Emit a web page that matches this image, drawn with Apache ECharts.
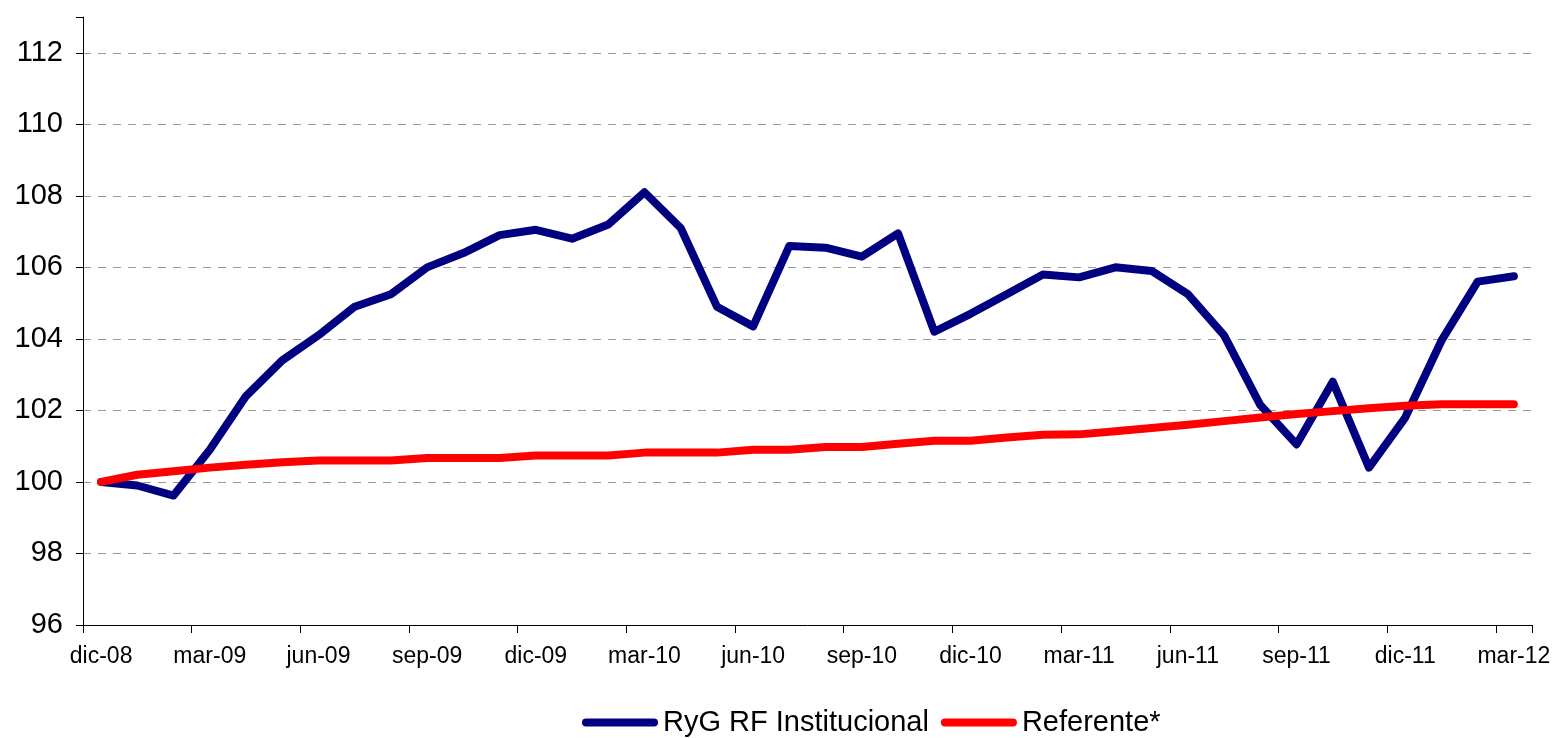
<!DOCTYPE html>
<html>
<head>
<meta charset="utf-8">
<script src="https://cdn.jsdelivr.net/npm/echarts@6/dist/echarts.min.js"></script>
<style>
  html, body { margin: 0; padding: 0; background: #fff; }
  #main { width: 1555px; height: 738px; }
</style>
</head>
<body>
<div id="main"></div>
<script type="text/javascript">
    // meses (dic-08 .. mar-12)
    var months = ['dic-08','ene-09','feb-09','mar-09','abr-09','may-09','jun-09','jul-09','ago-09','sep-09','oct-09','nov-09',
                  'dic-09','ene-10','feb-10','mar-10','abr-10','may-10','jun-10','jul-10','ago-10','sep-10','oct-10','nov-10',
                  'dic-10','ene-11','feb-11','mar-11','abr-11','may-11','jun-11','jul-11','ago-11','sep-11','oct-11','nov-11',
                  'dic-11','ene-12','feb-12','mar-12'];

    var ryg = [100.0, 99.9, 99.62, 100.9, 102.4, 103.4, 104.1, 104.9, 105.25, 106.0, 106.4, 106.9,
               107.05, 106.8, 107.2, 108.1, 107.1, 104.9, 104.35, 106.6, 106.55, 106.3, 106.95, 104.2,
               104.7, 105.25, 105.8, 105.72, 106.0, 105.9, 105.25, 104.1, 102.15, 101.05, 102.8, 100.4,
               101.8, 103.95, 105.6, 105.75];

    var referente = [100.0, 100.2, 100.3, 100.4, 100.48, 100.55, 100.6, 100.6, 100.6, 100.67, 100.67, 100.67,
                     100.74, 100.74, 100.74, 100.82, 100.82, 100.82, 100.9, 100.9, 100.98, 100.98, 101.07, 101.15,
                     101.15, 101.24, 101.32, 101.33, 101.42, 101.51, 101.6, 101.7, 101.8, 101.9, 101.98, 102.06,
                     102.13, 102.17, 102.17, 102.17];

    var yTicks = [96, 98, 100, 102, 104, 106, 108, 110, 112];

    var pill = 'path://M4,0 L72,0 A4,4 0 0 1 72,8 L4,8 A4,4 0 0 1 4,0 Z';

    var myChart = echarts.init(document.getElementById('main'));
    var option = {
        animation: false,
        backgroundColor: '#fff',
        grid: { left: 83, right: 23, top: 17, bottom: 113 },
        legend: {
            left: 577,
            top: 703,
            itemWidth: 76,
            itemHeight: 8,
            itemGap: 12,
            textStyle: { fontFamily: 'Liberation Sans, Arial, sans-serif', fontSize: 29, color: '#000' },
            data: [
                { name: 'RyG RF Institucional', icon: pill },
                { name: 'Referente*', icon: pill }
            ]
        },
        xAxis: {
            type: 'category',
            data: months,
            boundaryGap: true,
            axisLine: { show: true, lineStyle: { color: '#000', width: 1 } },
            axisTick: { show: true, interval: 2, length: 8, alignWithLabel: false, lineStyle: { color: '#000', width: 1 } },
            axisLabel: {
                interval: 2,
                margin: 20,
                color: '#000',
                fontFamily: 'Liberation Sans, Arial, sans-serif',
                fontSize: 23
            },
            splitLine: { show: false }
        },
        yAxis: {
            type: 'value',
            min: 96,
            max: 113,
            interval: 2,
            axisLine: { show: true, lineStyle: { color: '#000', width: 1 } },
            axisTick: { show: true, length: 7, lineStyle: { color: '#000', width: 1 } },
            axisLabel: {
                customValues: yTicks,
                margin: 20,
                color: '#000',
                fontFamily: 'Liberation Sans, Arial, sans-serif',
                fontSize: 29
            },
            splitLine: {
                show: true,
                showMinLine: false,
                showMaxLine: false,
                lineStyle: { color: '#999', type: [8, 7], width: 1 }
            }
        },
        series: [
            {
                name: 'RyG RF Institucional',
                type: 'line',
                data: ryg,
                showSymbol: false,
                symbol: 'none',
                lineStyle: { color: '#000080', width: 8, cap: 'round', join: 'round' },
                itemStyle: { color: '#000080' },
                z: 3
            },
            {
                name: 'Referente*',
                type: 'line',
                data: referente,
                showSymbol: false,
                symbol: 'none',
                lineStyle: { color: '#ff0000', width: 8, cap: 'round', join: 'round' },
                itemStyle: { color: '#ff0000' },
                z: 4
            }
        ]
    };
    myChart.setOption(option);
</script>
</body>
</html>
